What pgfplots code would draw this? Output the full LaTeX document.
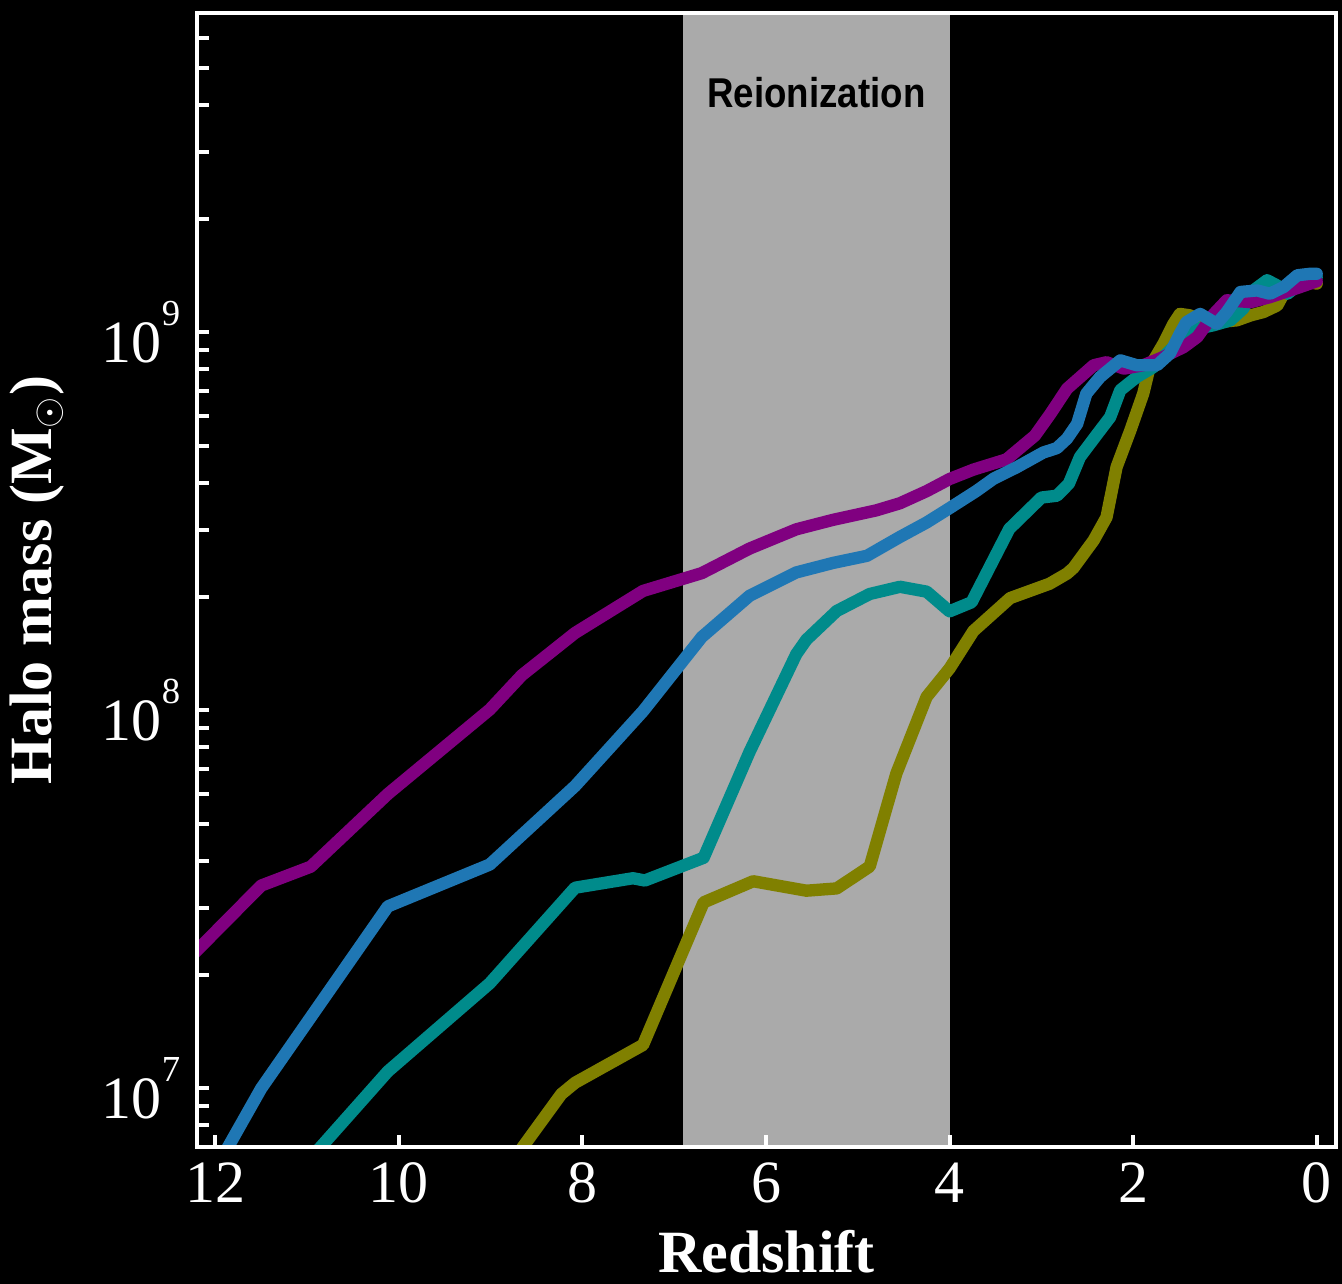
\documentclass[border=0pt]{standalone}
\usepackage{fontspec}
\setmainfont{Liberation Serif}
\newfontfamily\sansbold{Liberation Sans}
\usepackage{graphicx}
\usepackage{pgfplots}
\usepackage{pgfplotstable}
\pgfplotsset{compat=1.18}

\definecolor{cpurple}{HTML}{800080}
\definecolor{cblue}{HTML}{1F77B4}
\definecolor{cteal}{HTML}{008B8B}
\definecolor{colive}{HTML}{808000}
\definecolor{bandgray}{HTML}{AAAAAA}

% power-of-ten tick labels set in the text font
\newcommand{\tenpow}[1]{10\raisebox{11pt}{\fontsize{11}{11}\selectfont #1}}

% halo mass growth histories: redshift, mass in solar masses
\pgfplotstableread{
z M
12.30 2.19e7
11.50 3.44e7
10.96 3.86e7
10.12 6.01e7
9.01 1.005e8
8.66 1.239e8
8.08 1.603e8
7.34 2.070e8
6.70 2.307e8
6.18 2.679e8
5.67 3.013e8
5.27 3.192e8
4.80 3.381e8
4.54 3.532e8
4.25 3.802e8
4.00 4.093e8
3.74 4.335e8
3.38 4.613e8
3.07 5.333e8
2.90 6.095e8
2.72 7.096e8
2.43 8.185e8
2.29 8.337e8
2.10 8.017e8
1.89 8.185e8
1.67 8.610e8
1.45 9.141e8
1.30 9.727e8
1.12 1.119e9
0.98 1.216e9
0.72 1.202e9
0.51 1.239e9
0.18 1.318e9
0.00 1.365e9
}\haloA

\pgfplotstableread{
z M
12.00 6.10e6
11.50 1.00e7
10.12 3.03e7
9.01 3.91e7
8.08 6.31e7
7.34 9.95e7
6.70 1.563e8
6.18 2.009e8
5.67 2.317e8
5.27 2.455e8
4.90 2.564e8
4.54 2.877e8
4.25 3.141e8
4.00 3.428e8
3.71 3.802e8
3.52 4.102e8
3.27 4.395e8
2.98 4.808e8
2.83 4.943e8
2.72 5.236e8
2.61 5.728e8
2.51 6.887e8
2.36 7.621e8
2.14 8.433e8
1.96 8.185e8
1.74 8.185e8
1.60 8.790e8
1.49 9.931e8
1.42 1.064e9
1.27 1.119e9
1.09 1.054e9
0.98 1.132e9
0.83 1.279e9
0.65 1.291e9
0.51 1.265e9
0.36 1.318e9
0.21 1.416e9
0.07 1.429e9
0.00 1.429e9
}\haloB

\pgfplotstableread{
z M
11.00 6.38e6
10.84 7.05e6
10.12 1.109e7
9.01 1.897e7
8.08 3.396e7
7.45 3.597e7
7.32 3.548e7
6.68 4.074e7
6.18 7.762e7
5.67 1.409e8
5.56 1.538e8
5.23 1.832e8
4.87 2.032e8
4.54 2.123e8
4.25 2.061e8
4.00 1.828e8
3.76 1.932e8
3.35 3.020e8
3.00 3.656e8
2.83 3.698e8
2.70 3.981e8
2.58 4.677e8
2.40 5.346e8
2.25 5.970e8
2.14 7.031e8
1.96 7.621e8
1.78 8.091e8
1.60 8.954e8
1.38 1.012e9
1.12 1.045e9
0.94 1.076e9
0.80 1.156e9
0.69 1.291e9
0.54 1.374e9
0.43 1.330e9
0.32 1.265e9
0.18 1.346e9
0.00 1.400e9
}\haloC

\pgfplotstableread{
z M
9.00 5.35e6
8.64 7.05e6
8.23 9.66e6
8.08 1.035e7
7.34 1.303e7
6.68 3.105e7
6.14 3.532e7
5.56 3.334e7
5.23 3.381e7
4.87 3.864e7
4.58 6.808e7
4.25 1.086e8
4.00 1.291e8
3.74 1.622e8
3.34 1.982e8
2.91 2.163e8
2.72 2.301e8
2.65 2.382e8
2.43 2.818e8
2.29 3.243e8
2.18 4.406e8
2.03 5.508e8
1.89 6.887e8
1.82 8.091e8
1.67 9.333e8
1.56 1.054e9
1.49 1.119e9
1.38 1.109e9
1.23 1.054e9
1.09 1.064e9
0.87 1.076e9
0.72 1.109e9
0.58 1.132e9
0.43 1.178e9
0.32 1.318e9
0.18 1.374e9
0.00 1.346e9
}\haloD

\begin{document}
\begin{tikzpicture}
\path[use as bounding box, fill=black] (-59.1pt,-41.1pt) rectangle (343.5pt,344.1pt);
\begin{axis}[
  at={(0pt,0pt)}, anchor=south west,
  scale only axis, width=341.7pt, height=340.2pt,
  ymode=log, x dir=reverse,
  xmin=-0.21, xmax=12.2, ymin=7e6, ymax=7e9,
  axis on top,
  axis line style={white, line width=1.2pt},
  tick style={white, line width=1.2pt},
  major tick length=3.6pt, minor tick length=3.6pt,
  tick pos=left,
  xtick={0,2,4,6,8,10,12}, xticklabels={0,2,4,6,8,10,12},
  ytick={1e7,1e8,1e9}, yticklabels={\tenpow{7},\tenpow{8},\tenpow{9}},
  minor ytick={8e6,9e6,2e7,3e7,4e7,5e7,6e7,7e7,8e7,9e7,2e8,3e8,4e8,5e8,6e8,7e8,8e8,9e8,2e9,3e9,4e9,5e9,6e9},
  ticklabel style={font=\fontsize{18}{20}\selectfont, text=white},
  xticklabel style={yshift=-1.3pt},
  yticklabel style={xshift=-1.5pt},
  xlabel={Redshift}, ylabel={Halo mass (M$_{\odot}$)},
  label style={font=\fontsize{18}{20}\selectfont\bfseries, text=white},
  xlabel style={at={(ticklabel cs:0.5,1.2pt)}},
  ylabel style={at={(ticklabel cs:0.5,4.5pt)}},
  every axis plot/.append style={line width=3.7pt, line join=round, line cap=round},
]
\fill[bandgray] (axis cs:6.9,7e6) rectangle (axis cs:4,7e9);
\node[text=black, font={\sansbold\bfseries\fontsize{12.5}{14}\selectfont}] at (axis cs:5.45,4.3e9) {\scalebox{0.88}[1]{Reionization}};
\addplot[colive] table[x=z, y=M] {\haloD};
\addplot[cteal] table[x=z, y=M] {\haloC};
\addplot[cpurple] table[x=z, y=M] {\haloA};
\addplot[cblue] table[x=z, y=M] {\haloB};
\end{axis}
\end{tikzpicture}
\end{document}
